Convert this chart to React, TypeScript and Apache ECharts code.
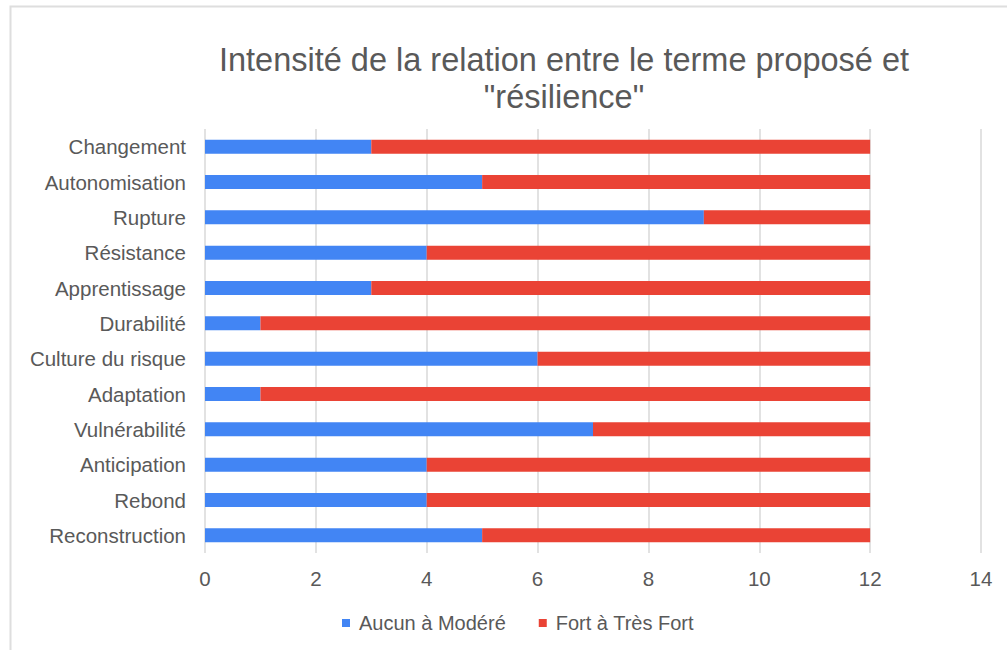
import React, { useEffect, useRef } from "react";
import * as echarts from "echarts";

const categories = [
  "Changement",
  "Autonomisation",
  "Rupture",
  "Résistance",
  "Apprentissage",
  "Durabilité",
  "Culture du risque",
  "Adaptation",
  "Vulnérabilité",
  "Anticipation",
  "Rebond",
  "Reconstruction",
];
const aucunAModere = [3, 5, 9, 4, 3, 1, 6, 1, 7, 4, 4, 5];
const fortATresFort = [9, 7, 3, 8, 9, 11, 6, 11, 5, 8, 8, 7];
const seriesNames = ["Aucun à Modéré", "Fort à Très Fort"];
const titleText = 'Intensité de la relation entre le terme proposé et\n"résilience"';

const FONT = "'Liberation Sans', Arial, sans-serif";

export default function App() {
  const ref = useRef<HTMLDivElement>(null);
  useEffect(() => {
    if (!ref.current) return;
    const chart = echarts.init(ref.current, null, { renderer: "svg" });
    chart.setOption({
      animation: false,
      backgroundColor: "#ffffff",
      textStyle: { fontFamily: FONT },
      title: {
        text: titleText,
        left: 559,
        top: 36,
        textAlign: "center",
        textStyle: {
          fontFamily: FONT,
          fontSize: 32.5,
          fontWeight: "normal",
          color: "#595959",
          lineHeight: 37,
        },
      },
      graphic: [
        {
          type: "rect",
          shape: { x: 10.5, y: 6.5, width: 1100, height: 700 },
          style: { fill: "none", stroke: "#dedede", lineWidth: 2 },
          silent: true,
        },
      ],
      legend: {
        left: 337,
        top: 608,
        icon: "rect",
        itemWidth: 8,
        itemHeight: 8,
        itemGap: 33,
        data: seriesNames,
        textStyle: {
          fontFamily: FONT,
          fontSize: 20,
          color: "#595959",
          padding: [0, 0, 0, 4],
        },
      },
      grid: { left: 205, right: 26, top: 129, bottom: 97, containLabel: false },
      xAxis: {
        type: "value",
        min: 0,
        max: 14,
        interval: 2,
        axisLine: { show: false },
        axisTick: { show: false },
        splitLine: { show: true, lineStyle: { color: "#d9d9d9", width: 1.5 } },
        axisLabel: {
          fontFamily: FONT,
          fontSize: 20.5,
          color: "#595959",
          margin: 15,
        },
      },
      yAxis: {
        type: "category",
        data: categories,
        inverse: true,
        axisLine: { show: false },
        axisTick: { show: false },
        splitLine: { show: false },
        axisLabel: {
          fontFamily: FONT,
          fontSize: 20.5,
          color: "#595959",
          margin: 19,
        },
      },
      series: [
        {
          name: seriesNames[0],
          type: "bar",
          stack: "total",
          data: aucunAModere,
          barWidth: 14,
          itemStyle: { color: "#4285F4" },
        },
        {
          name: seriesNames[1],
          type: "bar",
          stack: "total",
          data: fortATresFort,
          barWidth: 14,
          itemStyle: { color: "#EA4335" },
        },
      ],
    });
    return () => chart.dispose();
  }, []);
  return (
    <div
      ref={ref}
      style={{ position: "absolute", left: 0, top: 0, width: 1007, height: 650 }}
    />
  );
}
